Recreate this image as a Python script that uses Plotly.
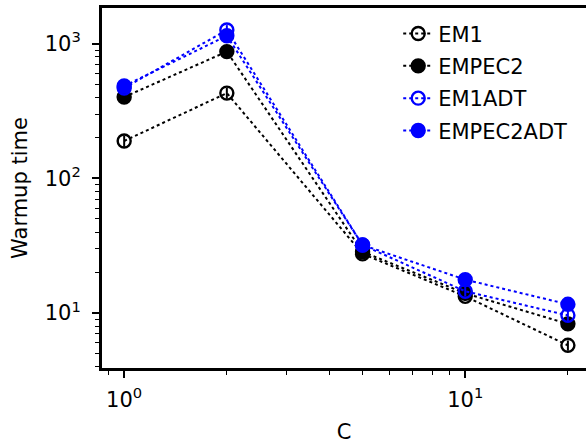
import math
import plotly.graph_objects as go

C = [1, 2, 5, 10, 20]
em1 = [190, 431, 27.5, 13.3, 5.75]
em1_err = [18, 40, 2.0, 1.0, 0.5]
empec2 = [403, 877, 28.5, 14.0, 8.3]
empec2_err = [40, 80, 2.0, 1.2, 0.9]
em1adt = [470, 1270, 32, 14.5, 9.6]
em1adt_err = [40, 110, 2.5, 1.2, 0.9]
empec2adt = [487, 1150, 32, 17.7, 11.6]
empec2adt_err = [45, 100, 2.5, 1.5, 1.0]

series = [
    ("EM1", em1, em1_err, "black", "circle-open"),
    ("EMPEC2", empec2, empec2_err, "black", "circle"),
    ("EM1ADT", em1adt, em1adt_err, "blue", "circle-open"),
    ("EMPEC2ADT", empec2adt, empec2adt_err, "blue", "circle"),
]

fig = go.Figure()
for i, (name, vals, err, col, sym) in enumerate(series):
    fig.add_trace(go.Scatter(
        x=C, y=vals, name=name, mode="lines+markers",
        legendgroup=f"g{i}",
        line=dict(color=col, width=2, dash="dot"),
        marker=dict(symbol=sym, size=13, color=col, line=dict(color=col, width=2.4)),
        error_y=dict(type="data", array=err, visible=True, color=col, thickness=2, width=0),
    ))

xmin, xmax = 0.861, 22.6
ymin, ymax = 3.9, 1850
FS = 21

fig.update_layout(
    width=586, height=444,
    margin=dict(l=102, r=0, t=8, b=76),
    plot_bgcolor="white", paper_bgcolor="white",
    font=dict(family="DejaVu Sans", size=FS, color="black"),
    showlegend=True,
    legend=dict(x=0.612, y=0.985, xanchor="left", yanchor="top",
                font=dict(size=FS), bgcolor="rgba(0,0,0,0)",
                traceorder="grouped", tracegroupgap=2, itemwidth=30),
    xaxis=dict(type="log", range=[math.log10(xmin), math.log10(xmax)],
               showline=True, linecolor="black", linewidth=3, mirror=True,
               showgrid=False, zeroline=False,
               ticks="outside", ticklen=7, tickwidth=2, tickcolor="black",
               ticklabelstandoff=4,
               tickvals=[1, 10], ticktext=["10<sup>0</sup>", "10<sup>1</sup>"],
               minor=dict(ticks="outside", ticklen=4, tickwidth=1.3, tickcolor="black",
                          tickvals=[0.9, 2, 3, 4, 5, 6, 7, 8, 9, 20], showgrid=False),
               title=dict(text="C", standoff=15, font=dict(size=FS)),
               tickfont=dict(size=FS)),
    yaxis=dict(type="log", range=[math.log10(ymin), math.log10(ymax)],
               showline=True, linecolor="black", linewidth=3, mirror=False,
               showgrid=False, zeroline=False,
               ticks="outside", ticklen=7, tickwidth=2, tickcolor="black",
               ticklabelstandoff=7,
               tickvals=[10, 100, 1000], ticktext=["10<sup>1</sup>", "10<sup>2</sup>", "10<sup>3</sup>"],
               minor=dict(ticks="outside", ticklen=4, tickwidth=1.3, tickcolor="black",
                          tickvals=[4, 5, 6, 7, 8, 9, 20, 30, 40, 50, 60, 70, 80, 90,
                                    200, 300, 400, 500, 600, 700, 800, 900], showgrid=False),
               title=dict(text="Warmup time", standoff=12, font=dict(size=FS)),
               tickfont=dict(size=FS)),
)

fig.write_html("out.html")
